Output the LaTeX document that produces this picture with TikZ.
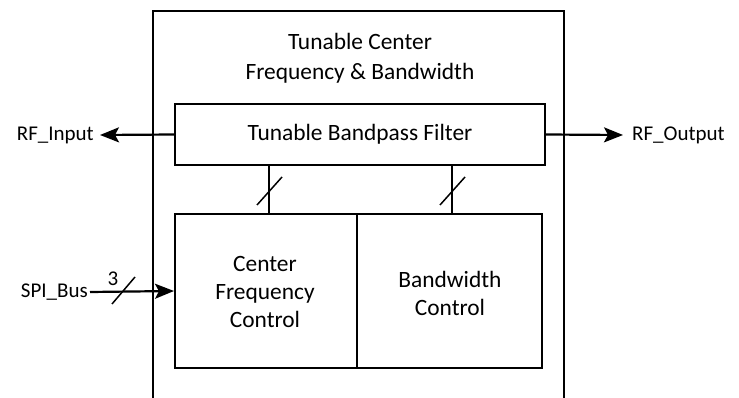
\documentclass[tikz,border=0pt]{standalone}
\usepackage{fontspec}
\setmainfont{Carlito}
\usetikzlibrary{arrows.meta}
\begin{document}
\begin{tikzpicture}[x=1pt,y=-1pt,
  box/.style={draw, line width=2pt, inner sep=0pt, align=center},
  big/.style={font=\fontsize{23.4}{28}\selectfont},
  lbl/.style={inner sep=0pt, font=\fontsize{21}{29}\selectfont, align=center},
  arr/.style={line width=2.2pt, -{Stealth[length=19pt,width=15pt,inset=4pt]}},
  wire/.style={line width=2pt},
  tick/.style={line width=1.5pt}]
\useasboundingbox (0,0) rectangle (739,398);
% outer enclosure (open bottom)
\coordinate (ol) at (153,398);
\coordinate (or) at (564,398);
\draw[line width=2.6pt] (ol) -- (153,11) -- (564,11) -- (or);
\node[lbl, font=\fontsize{23.4}{30}\selectfont] (title) at (360,58) {Tunable Center\\Frequency \& Bandwidth};
% blocks
\node[box, big, minimum width=370pt, minimum height=61pt] (filter) at (360,134.5) {Tunable Bandpass Filter};
\node[box, big, minimum width=182pt, minimum height=154pt] (cf) at (266,291) {};
\node[big, align=center, inner sep=0pt] (cft) at (265,292) {Center\\Frequency\\Control};
\node[box, minimum width=185pt, minimum height=154pt] (bw) at (449.5,291) {};
\node[big, align=center, inner sep=0pt] (bwt) at (450,293) {Bandwidth\\Control};
% external labels
\node[lbl, anchor=east] (rfin) at (94,135) {RF\_Input};
\node[lbl, anchor=west] (rfout) at (632,135) {RF\_Output};
\node[lbl, anchor=east] (spi) at (88,292) {SPI\_Bus};
% arrows
\draw[arr] (filter.west) -- ([xshift=6pt]rfin.east);
\draw[arr] (filter.east) -- ([xshift=-9pt]rfout.west);
\draw[arr] ([xshift=2pt]spi.east) -- (cf.west);
% control connections
\coordinate (c1t) at (269,165); \coordinate (c1b) at (269,214);
\coordinate (c2t) at (452,165); \coordinate (c2b) at (452,214);
\draw[wire] (c1t) -- (c1b);
\draw[wire] (c2t) -- (c2b);
% bus ticks
\coordinate (t1a) at (257,205); \coordinate (t1b) at (282,177);
\coordinate (t2a) at (440,205); \coordinate (t2b) at (465,177);
\coordinate (t3a) at (112,304); \coordinate (t3b) at (135,277);
\draw[tick] (t1a) -- (t1b);
\draw[tick] (t2a) -- (t2b);
\draw[tick] (t3a) -- (t3b);
\node[lbl] (three) at (113,279) {3};
\end{tikzpicture}
\end{document}
